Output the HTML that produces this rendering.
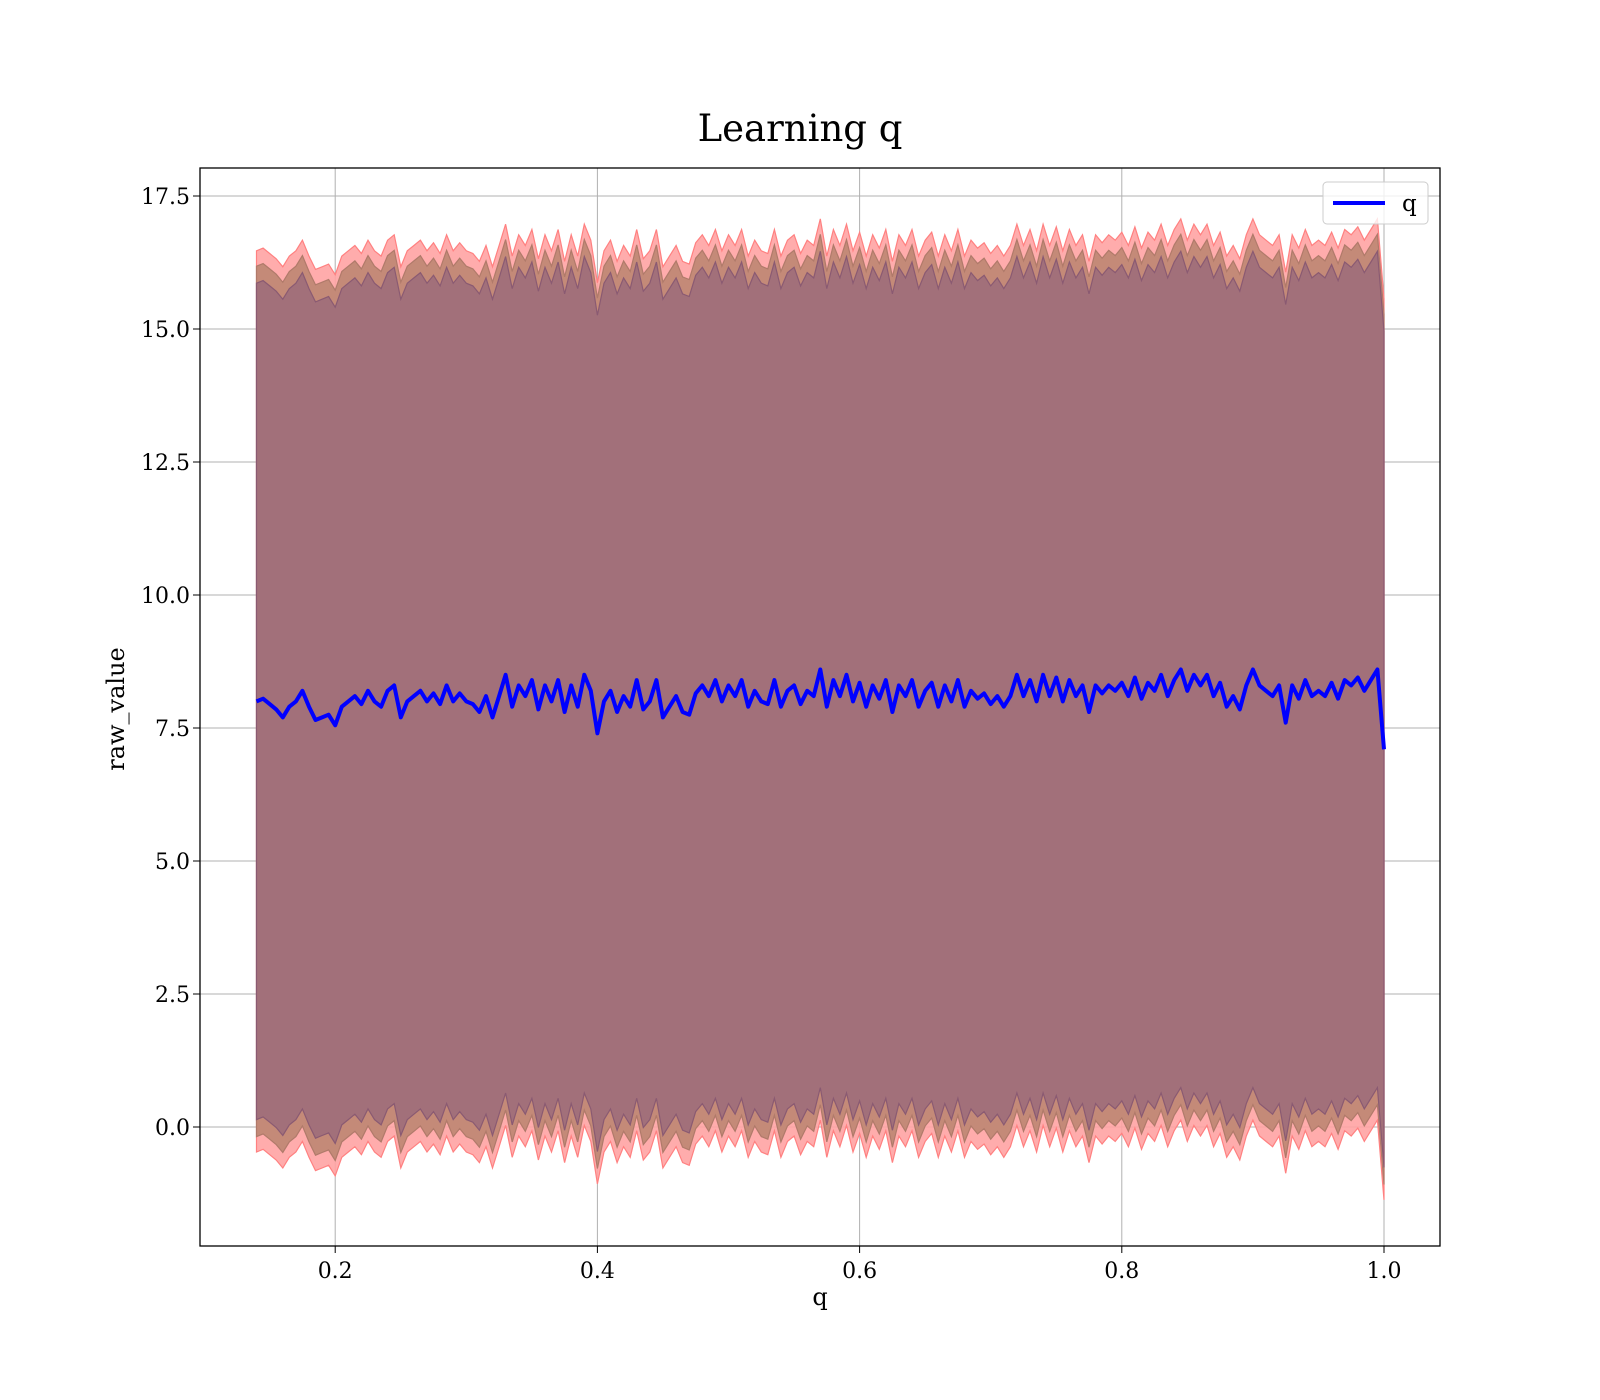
<!DOCTYPE html>
<html><head><meta charset="utf-8"><style>
html,body{margin:0;padding:0;background:#fff;}
svg{display:block;font-family:"DejaVu Serif","Liberation Serif",serif;}
</style></head><body>
<svg id="chart" width="1600" height="1400" viewBox="0 0 1600 1400">
<rect width="1600" height="1400" fill="#fff"/>
<text x="800" y="141" text-anchor="middle" font-size="37">Learning q</text>
<g id="grid"></g>
<g id="bands"></g>
<g id="line"></g>
<rect x="200" y="168" width="1240" height="1078" fill="none" stroke="#000" stroke-width="1.3"/>
<g id="xticks"></g>
<g id="yticks"></g>
<text x="820" y="1305" text-anchor="middle" font-size="24">q</text>
<text x="0" y="0" transform="translate(124,709) rotate(-90)" text-anchor="middle" font-size="24">raw_value</text>
<g>
<rect x="1323" y="182" width="105" height="42" rx="4" fill="#fff" fill-opacity="0.8" stroke="#ccc"/>
<line x1="1333" y1="203" x2="1385" y2="203" stroke="#0000ff" stroke-width="4"/>
<text x="1402" y="211" font-size="23">q</text>
</g>
</svg>
<script>
const meanValues=[8.0,8.05,7.95,7.85,7.7,7.9,8.0,8.2,7.9,7.65,7.7,7.75,7.55,7.9,8.0,8.1,7.95,8.2,8.0,7.9,8.2,8.3,7.7,8.0,8.1,8.2,8.0,8.15,7.95,8.3,8.0,8.15,8.0,7.95,7.8,8.1,7.7,8.1,8.5,7.9,8.3,8.1,8.4,7.85,8.3,8.0,8.4,7.8,8.3,7.9,8.5,8.2,7.4,8.0,8.2,7.8,8.1,7.9,8.4,7.85,8.0,8.4,7.7,7.9,8.1,7.8,7.75,8.15,8.3,8.1,8.4,8.0,8.3,8.1,8.4,7.9,8.2,8.0,7.95,8.4,7.9,8.2,8.3,7.95,8.2,8.1,8.6,7.9,8.4,8.1,8.5,8.0,8.35,7.9,8.3,8.05,8.4,7.8,8.3,8.1,8.4,7.9,8.2,8.35,7.9,8.3,8.0,8.4,7.9,8.2,8.05,8.15,7.95,8.1,7.9,8.1,8.5,8.1,8.4,8.0,8.5,8.1,8.45,8.0,8.4,8.1,8.3,7.8,8.3,8.15,8.3,8.2,8.35,8.1,8.45,8.05,8.35,8.2,8.5,8.1,8.4,8.6,8.2,8.5,8.3,8.5,8.1,8.35,7.9,8.1,7.85,8.3,8.6,8.3,8.2,8.1,8.3,7.6,8.3,8.05,8.4,8.1,8.2,8.1,8.35,8.05,8.4,8.3,8.45,8.2,8.4,8.6,7.1];
const qStart=0.14, qStep=0.005;
const bandWidths=[8.47,8.18,7.86];
const xTickLabels=["0.2","0.4","0.6","0.8","1.0"];
const xTickValues=[0.2,0.4,0.6,0.8,1.0];
const yTickLabels=["0.0","2.5","5.0","7.5","10.0","12.5","15.0","17.5"];
const yTickValues=[0,2.5,5,7.5,10,12.5,15,17.5];
const NS="http://www.w3.org/2000/svg";
const X=v=>1384+(v-1.0)*1311;
const Y=v=>1127-v*53.2;
const qs=meanValues.map((_,i)=>qStart+i*qStep);
function mk(tag,attrs,parent){const e=document.createElementNS(NS,tag);for(const k in attrs)e.setAttribute(k,attrs[k]);parent.appendChild(e);return e;}
const grid=document.getElementById('grid');
const xt=document.getElementById('xticks'),yt=document.getElementById('yticks');
xTickValues.forEach((v,i)=>{
 const g=mk('line',{x1:X(v),x2:X(v),y1:168,y2:1246,stroke:'#b0b0b0','stroke-width':1},grid);
 
 
 const t=mk('line',{x1:X(v),x2:X(v),y1:1246,y2:1253,stroke:'#000'},xt);
 
 
 const l=mk('text',{x:X(v),y:1278,'text-anchor':'middle','font-size':22},xt);
 l.textContent=xTickLabels[i];
 
 
});
yTickValues.forEach((v,i)=>{
 const g=mk('line',{x1:200,x2:1440,y1:Y(v),y2:Y(v),stroke:'#b0b0b0','stroke-width':1},grid);
 
 
 const t=mk('line',{x1:193,x2:200,y1:Y(v),y2:Y(v),stroke:'#000'},yt);
 
 
 const l=mk('text',{x:190,y:Y(v)+8,'text-anchor':'end','font-size':22},yt);
 l.textContent=yTickLabels[i];
 
 
});
const bands=document.getElementById('bands');
const fills=['#ffa3a3','#c48a78','#a2707a'];
const strokes=['#ff8080','#b07a6a','#8a5a72'];
const names=['band-outer','band-middle','band-inner'];
bandWidths.forEach((w,b)=>{
 const up=qs.map((q,i)=>X(q).toFixed(1)+','+Y(meanValues[i]+w).toFixed(1));
 const dn=qs.map((q,i)=>X(q).toFixed(1)+','+Y(meanValues[i]-w).toFixed(1)).reverse();
 const p=mk('polygon',{points:up.concat(dn).join(' '),fill:fills[b],stroke:strokes[b],'stroke-width':1.2,'fill-opacity':b===0?0.9:1},bands);
 
 
});
const ln=mk('polyline',{points:qs.map((q,i)=>X(q).toFixed(1)+','+Y(meanValues[i]).toFixed(1)).join(' '),fill:'none',stroke:'#0000ff','stroke-width':4,'stroke-linejoin':'round'},document.getElementById('line'));


</script>
</body></html>
